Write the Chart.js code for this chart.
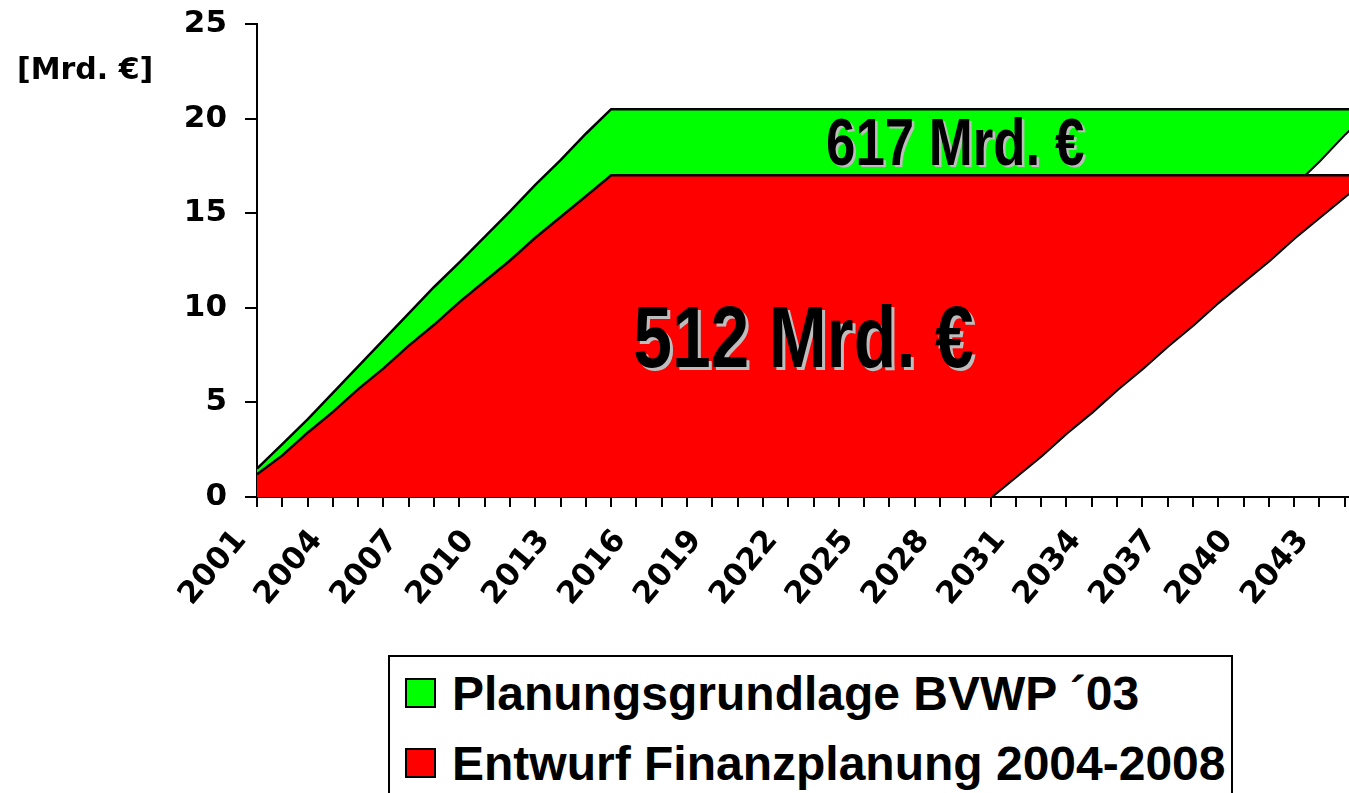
<!DOCTYPE html>
<html>
<head>
<meta charset="utf-8">
<script src="https://cdn.jsdelivr.net/npm/chart.js@4.4.1/dist/chart.umd.min.js"></script>
<style>
html,body{margin:0;padding:0;background:#fff;width:1349px;height:793px;overflow:hidden;}
#wrap{position:relative;width:1349px;height:793px;overflow:hidden;}
#c{position:absolute;left:0;top:0;}
#legend{position:absolute;left:388px;top:655px;width:845px;height:170px;box-sizing:border-box;border:2px solid #000;background:#fff;
  font-family:"Liberation Sans",Arial,sans-serif;font-weight:bold;font-size:48px;color:#000;}
.item{position:absolute;left:15px;height:48px;line-height:48px;white-space:nowrap;}
.sw{position:absolute;left:0;top:8px;width:31px;height:30px;box-sizing:border-box;border:2px solid #000;}
.tx{position:absolute;left:47px;top:0;}
</style>
</head>
<body>
<div id="wrap">
  <canvas id="c" width="1370" height="793"></canvas>
  <div id="legend"></div>
</div>
<script>
// ---- data ----
const years = ['2001','2002','2003','2004','2005','2006','2007','2008','2009','2010',
  '2011','2012','2013','2014','2015','2016','2017','2018','2019','2020',
  '2021','2022','2023','2024','2025','2026','2027','2028','2029','2030',
  '2031','2032','2033','2034','2035','2036','2037','2038','2039','2040',
  '2041','2042','2043','2044','2045'];

// Planungsgrundlage BVWP '03 (green band: upper and lower edge)
const planTop = [1.5,2.8,4.1,5.5,6.9,8.3,9.7,11.1,12.4,13.75,
  15.1,16.5,17.8,19.2,20.5,20.5,20.5,20.5,20.5,20.5,
  20.5,20.5,20.5,20.5,20.5,20.5,20.5,20.5,20.5,20.5,
  20.5,20.5,20.5,20.5,20.5,20.5,20.5,20.5,20.5,20.5,
  20.5,20.5,20.5,20.5,20.5];
const planBottom = [0,0,0,0,0,0,0,0,0,0,
  0,0,0,0,0,0,0,0,0,0,
  0,0,0,0,0,0,0,0,0,0,
  1.5,2.8,4.1,5.5,6.9,8.3,9.7,11.1,12.4,13.75,
  15.1,16.5,17.8,19.2,20.5];

// Entwurf Finanzplanung 2004-2008 (red band: upper and lower edge)
const finTop = [1.2,2.2,3.4,4.5,5.7,6.8,8.0,9.1,10.3,11.4,
  12.5,13.7,14.8,15.9,17.0,17,17,17,17,17,
  17,17,17,17,17,17,17,17,17,17,
  17,17,17,17,17,17,17,17,17,17,
  17,17,17,17,17];
const finBottom = [0,0,0,0,0,0,0,0,0,0,
  0,0,0,0,0,0,0,0,0,0,
  0,0,0,0,0,0,0,0,0,0,
  1.1,2.2,3.4,4.5,5.7,6.8,8.0,9.1,10.3,11.4,
  12.5,13.7,14.8,15.9,17.0];

const seriesNames = ['Planungsgrundlage BVWP \u00B403', 'Entwurf Finanzplanung 2004-2008'];
const yTicks = [0, 5, 10, 15, 20, 25];
const labelEvery = 3;
const unitLabel = '[Mrd. \u20AC]';
const annotations = [
  {text: '512 Mrd. \u20AC', at: 21.6, value: 6.85, size: 87, shadow: 3},
  {text: '617 Mrd. \u20AC', at: 27.6, value: 17.55, size: 66, shadow: 2.5}
];

// ---- chart ----
const AXIS_FONT = {family: 'DejaVu Sans', weight: 'bold', size: 31};

const textPlugin = {
  id: 'texts',
  afterDatasetsDraw(chart) {
    const ctx = chart.ctx, xs = chart.scales.x, ys = chart.scales.y;
    ctx.save();
    annotations.forEach(a => {
      const px = xs.getPixelForValue(a.at), py = ys.getPixelForValue(a.value);
      ctx.font = 'bold ' + a.size + 'px "Liberation Sans", Arial, sans-serif';
      ctx.textAlign = 'center';
      ctx.textBaseline = 'alphabetic';
      ctx.save();
      ctx.translate(px, py);
      ctx.scale(0.8, 1);
      ctx.fillStyle = '#bdbdbd';
      ctx.fillText(a.text, a.shadow / 0.8, a.shadow);
      ctx.fillStyle = '#000';
      ctx.fillText(a.text, 0, 0);
      ctx.restore();
    });
    ctx.restore();
  },
  afterDraw(chart) {
    const ctx = chart.ctx;
    ctx.save();
    ctx.font = 'bold 30px "DejaVu Sans"';
    ctx.fillStyle = '#000';
    ctx.textAlign = 'left';
    ctx.textBaseline = 'alphabetic';
    ctx.fillText(unitLabel, 17, 79);
    ctx.restore();
  }
};

const chart = new Chart(document.getElementById('c'), {
  type: 'line',
  data: {
    labels: years,
    datasets: [
      {label: seriesNames[1], data: finTop, backgroundColor: '#FF0000', borderColor: '#000', borderWidth: 2.5,
       fill: 1, pointRadius: 0, tension: 0, inLegend: true, legendOrder: 2},
      {label: seriesNames[1] + ' (Ende)', data: finBottom, borderColor: '#000', borderWidth: 4,
       fill: false, pointRadius: 0, tension: 0},
      {label: seriesNames[0], data: planTop, backgroundColor: '#00FF00', borderColor: '#000', borderWidth: 2.5,
       fill: 3, pointRadius: 0, tension: 0, inLegend: true, legendOrder: 1},
      {label: seriesNames[0] + ' (Ende)', data: planBottom, borderColor: '#000', borderWidth: 4,
       fill: false, pointRadius: 0, tension: 0}
    ]
  },
  options: {
    responsive: false,
    animation: false,
    layout: {padding: {top: 24, left: 0, right: 0, bottom: 0}},
    plugins: {legend: {display: false}, tooltip: {enabled: false}},
    scales: {
      x: {
        type: 'category',
        offset: false,
        z: 1,
        grid: {drawOnChartArea: false, drawTicks: true, tickLength: 10, color: '#000', lineWidth: 2},
        border: {display: true, color: '#000', width: 2},
        ticks: {
          autoSkip: false, minRotation: 50, maxRotation: 50, padding: 16, labelOffset: -16,
          color: '#000', font: AXIS_FONT,
          callback: (v, i) => (i % labelEvery === 0 ? years[i] : '')
        },
        afterFit: s => { s.height = 296; s.paddingLeft = 0; s.paddingRight = 0; }
      },
      y: {
        min: yTicks[0], max: yTicks[yTicks.length - 1],
        z: 1,
        afterBuildTicks: s => { s.ticks = yTicks.map(v => ({value: v})); },
        grid: {drawOnChartArea: false, drawTicks: true, tickLength: 12, color: '#000', lineWidth: 2},
        border: {display: true, color: '#000', width: 2},
        ticks: {padding: 18, color: '#000', font: AXIS_FONT},
        afterFit: s => { s.width = 257; s.paddingTop = 0; s.paddingBottom = 0; }
      }
    }
  },
  plugins: [textPlugin]
});

// ---- HTML legend built from the chart's datasets ----
const legendEl = document.getElementById('legend');
chart.data.datasets.filter(d => d.inLegend)
  .sort((a, b) => a.legendOrder - b.legendOrder)
  .forEach((d, i) => {
    const item = document.createElement('div');
    item.className = 'item';
    item.style.top = (13 + i * 70) + 'px';
    const sw = document.createElement('span');
    sw.className = 'sw';
    sw.style.background = d.backgroundColor;
    const tx = document.createElement('span');
    tx.className = 'tx';
    tx.textContent = d.label;
    item.appendChild(sw);
    item.appendChild(tx);
    legendEl.appendChild(item);
  });
</script>
</body>
</html>
